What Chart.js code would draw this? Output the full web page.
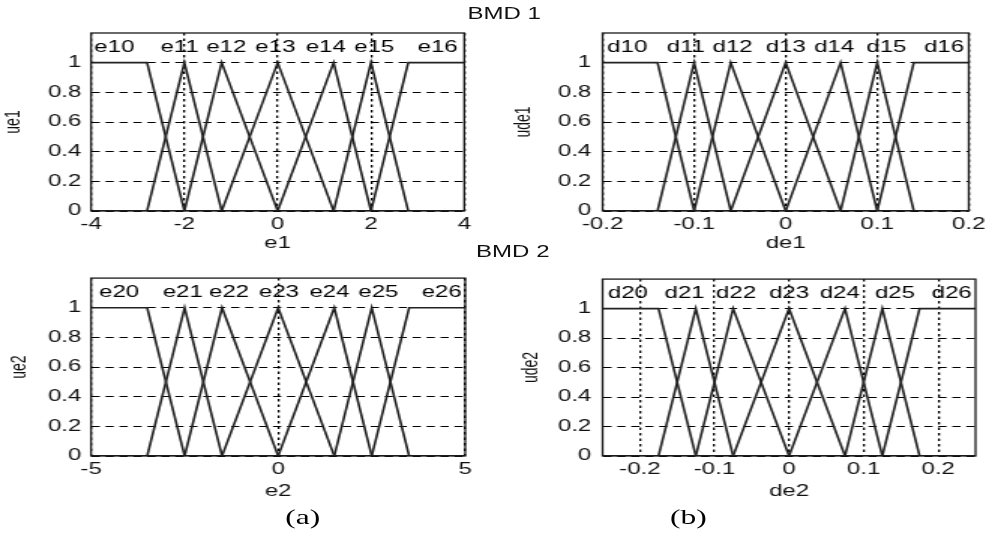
<!DOCTYPE html>
<html>
<head>
<meta charset="utf-8">
<script src="https://cdn.jsdelivr.net/npm/chart.js@4.4.1/dist/chart.umd.min.js"></script>
<style>
  html, body { margin: 0; padding: 0; background: #fff; overflow: hidden; }
  /* the source figure is stretched sideways, so draw narrow and stretch */
  #fig { position: absolute; left: 0; top: 0; width: 661px; height: 533px; transform: scaleX(1.5008); transform-origin: 0 0; }
  #fig canvas { position: absolute; }
  .lbl { position: absolute; font-family: "Liberation Sans", Arial, sans-serif; font-size: 16px; color: #111; transform: translate(-50%, -50%); white-space: nowrap; }
  .cap { font-family: "Liberation Serif", "Times New Roman", serif; font-size: 21px; color: #000; }
</style>
</head>
<body>
<div id="fig">
  <canvas id="c1" width="330" height="262" style="left:0;top:0"></canvas>
  <canvas id="c2" width="331" height="262" style="left:330px;top:0"></canvas>
  <canvas id="c3" width="330" height="271" style="left:0;top:262px"></canvas>
  <canvas id="c4" width="331" height="271" style="left:330px;top:262px"></canvas>
  <div class="lbl" style="left:336px;top:14px">BMD 1</div>
  <div class="lbl" style="left:341.7px;top:251.7px">BMD 2</div>
  <div class="lbl cap" style="left:201.7px;top:517px">(a)</div>
  <div class="lbl cap" style="left:458.7px;top:517px">(b)</div>
</div>
<script>
// breakpoints of the membership functions (axis min, 7 corners, axis max)
var xPts1 = [-4, -2.8, -2, -1.2, 0, 1.2, 2, 2.8, 4];
var xPts2 = [-0.2, -0.14, -0.1, -0.06, 0, 0.06, 0.1, 0.14, 0.2];
var xPts3 = [-5, -3.5, -2.5, -1.5, 0, 1.5, 2.5, 3.5, 5];
var xPts4 = [-0.25, -0.175, -0.125, -0.075, 0, 0.075, 0.125, 0.175, 0.25];

// membership value of each fuzzy set at those breakpoints
var mf0 = [1, 1, 0, 0, 0, 0, 0, 0, 0];
var mf1 = [0, 0, 1, 0, 0, 0, 0, 0, 0];
var mf2 = [0, 0, 0, 1, 0, 0, 0, 0, 0];
var mf3 = [0, 0, 0, 0, 1, 0, 0, 0, 0];
var mf4 = [0, 0, 0, 0, 0, 1, 0, 0, 0];
var mf5 = [0, 0, 0, 0, 0, 0, 1, 0, 0];
var mf6 = [0, 0, 0, 0, 0, 0, 0, 1, 1];
var mfSets = [mf0, mf1, mf2, mf3, mf4, mf5, mf6];

// set names and where they are written (y = 1.1)
var names1 = ['e10', 'e11', 'e12', 'e13', 'e14', 'e15', 'e16'];
var names2 = ['d10', 'd11', 'd12', 'd13', 'd14', 'd15', 'd16'];
var names3 = ['e20', 'e21', 'e22', 'e23', 'e24', 'e25', 'e26'];
var names4 = ['d20', 'd21', 'd22', 'd23', 'd24', 'd25', 'd26'];
var nameX1 = [-3.5, -2.1, -1.1, -0.05, 1.03, 2.07, 3.43];
var nameX2 = [-0.173, -0.109, -0.058, 0, 0.053, 0.11, 0.173];
var nameX3 = [-4.25, -2.55, -1.31, 0.02, 1.37, 2.68, 4.37];
var nameX4 = [-0.216, -0.14, -0.071, 0, 0.068, 0.142, 0.218];
var nameY = 1.1;

// tick labels
var xTicks1 = [-4, -2, 0, 2, 4];
var xTicks2 = [-0.2, -0.1, 0, 0.1, 0.2];
var xTicks3 = [-5, 0, 5];
var xTicks4 = [-0.2, -0.1, 0, 0.1, 0.2];
var yTicks = [0, 0.2, 0.4, 0.6, 0.8, 1];

Chart.defaults.font.family = '"Liberation Sans", Arial, sans-serif';
Chart.defaults.font.size = 16;
Chart.defaults.color = '#111';

var panelDecor = {
    id: 'panelDecor',
    afterDraw: function(chart, args, opts) {
        var ctx = chart.ctx, a = chart.chartArea;
        var sx = chart.scales.x, sy = chart.scales.y;
        ctx.save();
        ctx.strokeStyle = '#1a1a1a';
        ctx.lineWidth = 1.3;
        ctx.strokeRect(a.left, a.top, a.right - a.left, a.bottom - a.top);
        ctx.font = '16px "Liberation Sans", Arial, sans-serif';
        ctx.fillStyle = '#000';
        ctx.textAlign = 'center';
        ctx.textBaseline = 'middle';
        for (var i = 0; i < opts.names.length; i++) {
            ctx.fillText(opts.names[i], sx.getPixelForValue(opts.xs[i]), sy.getPixelForValue(nameY));
        }
        ctx.restore();
    }
};

function fmt(v) {
    return String(Math.round(v * 1000) / 1000);
}

function makePanel(id, p) {
    var datasets = mfSets.map(function(mf) {
        return {
            data: p.xs.map(function(x, j) { return {x: x, y: mf[j]}; }),
            showLine: true,
            borderColor: '#222',
            borderWidth: 1.6,
            pointRadius: 0,
            tension: 0
        };
    });
    return new Chart(document.getElementById(id), {
        type: 'scatter',
        data: {datasets: datasets},
        plugins: [panelDecor],
        options: {
            responsive: false,
            animation: false,
            events: [],
            layout: {padding: {left: 0, right: p.padRight, top: p.padTop, bottom: 0}},
            plugins: {
                legend: {display: false},
                tooltip: {enabled: false},
                panelDecor: {names: p.names, xs: p.nameX}
            },
            scales: {
                x: {
                    type: 'linear',
                    min: p.xs[0],
                    max: p.xs[p.xs.length - 1],
                    afterBuildTicks: function(s) { s.ticks = p.ticks.map(function(v) { return {value: v}; }); },
                    afterFit: function(s) { s.height = p.xHeight; },
                    ticks: {autoSkip: false, maxRotation: 0, padding: 4.4, callback: fmt},
                    grid: {drawTicks: false, color: '#000', lineWidth: 1.3},
                    border: {display: false, dash: [2.5, 3]},
                    title: {display: true, text: p.xTitle, padding: {top: 0, bottom: p.xTitlePad}}
                },
                y: {
                    min: 0,
                    max: 1.2,
                    afterBuildTicks: function(s) { s.ticks = yTicks.map(function(v) { return {value: v}; }); },
                    afterFit: function(s) { s.width = p.yWidth; },
                    ticks: {padding: p.yTickPad, callback: fmt},
                    grid: {drawTicks: false, color: '#000', lineWidth: 1},
                    border: {display: false, dash: [5.5, 3.8]},
                    title: {display: true, text: p.yTitle, font: {size: 14}, padding: {top: p.yTitlePad, bottom: 0}}
                }
            }
        }
    });
}

makePanel('c1', {xs: xPts1, ticks: xTicks1, names: names1, nameX: nameX1, xTitle: 'e1', yTitle: 'ue1',
    padRight: 20.67, padTop: 33, yWidth: 60.67, xHeight: 51, yTickPad: 6.5, yTitlePad: 0.5, xTitlePad: 8.4});
makePanel('c2', {xs: xPts2, ticks: xTicks2, names: names2, nameX: nameX2, xTitle: 'de1', yTitle: 'ude1',
    padRight: 11, padTop: 33, yWidth: 71.5, xHeight: 51, yTickPad: 7.5, yTitlePad: 10.5, xTitlePad: 8.4});
makePanel('c3', {xs: xPts3, ticks: xTicks3, names: names3, nameX: nameX3, xTitle: 'e2', yTitle: 'ue2',
    padRight: 20, padTop: 15.3, yWidth: 60.67, xHeight: 77, yTickPad: 6.5, yTitlePad: 4.3, xTitlePad: 31.4});
makePanel('c4', {xs: xPts4, ticks: xTicks4, names: names4, nameX: nameX4, xTitle: 'de2', yTitle: 'ude2',
    padRight: 11, padTop: 15.3, yWidth: 71.5, xHeight: 77, yTickPad: 7.5, yTitlePad: 15.5, xTitlePad: 31.4});
</script>
</body>
</html>
